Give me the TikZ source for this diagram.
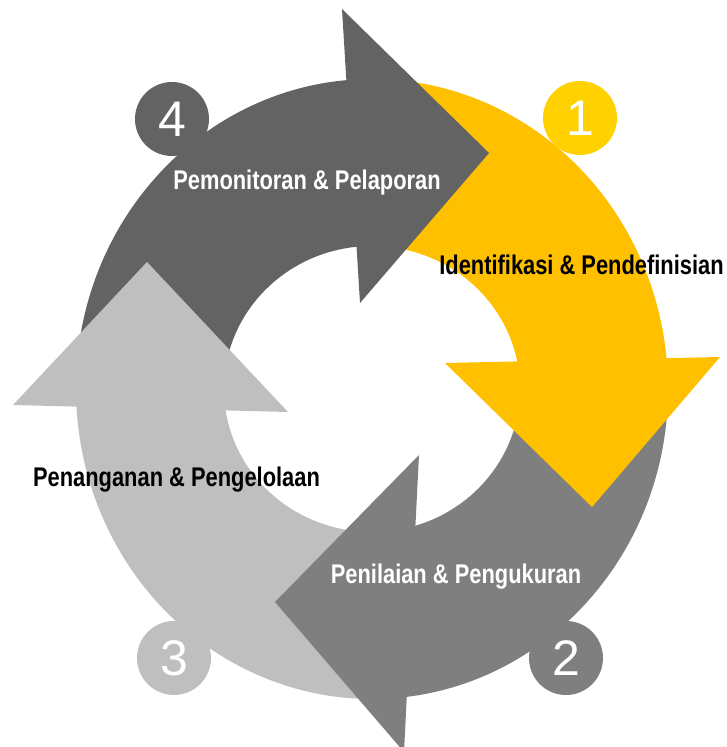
\documentclass[tikz,border=0pt]{standalone}
\usepackage{fontspec}
\setmainfont{Liberation Sans}
\newfontfamily\narrowsans[FakeStretch=0.81]{Liberation Sans}
\usetikzlibrary{calc}
\definecolor{cdark}{HTML}{636363}
\definecolor{cyellow}{HTML}{FFC000}
\definecolor{cgold}{HTML}{FFD100}
\definecolor{cmid}{HTML}{7F7F7F}
\definecolor{clight}{HTML}{BFBFBF}

\begin{document}
\begin{tikzpicture}[x=1pt,y=1pt,
		phase/.style={font=\narrowsans\bfseries\fontsize{27}{29}\selectfont, anchor=base, inner sep=0pt},
		badge/.style={circle, minimum size=74pt, inner sep=0pt, text=white,
			font=\fontsize{50}{50}\selectfont, text height=35.8pt, text depth=0pt}]
		\useasboundingbox (0,0) rectangle (727,747);
		\clip (0,0) rectangle (727,747);
		\coordinate (c) at (372,358);
		% ring pieces, each tail hidden under the head before it
		\foreach \col/\a/\b in {cdark/180.5/91, cyellow/93/1, cmid/2.6/-87, clight/-86/-181}
		\fill[\col] ($(c)+(\a:296 and 310)$) arc[start angle=\a, end angle=\b, x radius=296pt, y radius=310pt]
			-- ($(c)+(\b:148 and 143)$) arc[start angle=\b, end angle=\a, x radius=148pt, y radius=143pt] -- cycle;
		% heads
		\fill[cdark](342,738)--(489,594)--(360,444)--cycle;
		\fill[cyellow](720,390)--(592,240)--(445,384)--cycle;
		\fill[cmid](419,292)--(275,145)--(404,-5)--cycle;
		\fill[clight](13,342)--(147,485)--(288,335)--cycle;
		% numbers
		\node[badge, fill=cgold] (n1) at (580,629) {1};
		\node[badge, fill=cmid] (n2) at (566,89) {2};
		\node[badge, fill=clight] (n3) at (174,89) {3};
		\node[badge, fill=cdark] (n4) at (172,628) {4};
		% labels
		\node[phase, text=black] (identify) at (581.5,472) {Identifikasi \& Pendefinisian};
		\node[phase, text=white] (assess) at (456,163) {Penilaian \& Pengukuran};
		\node[phase, text=black] (handle) at (176.5,260) {Penanganan \& Pengelolaan};
		\node[phase, text=white] (monitor) at (307,557) {Pemonitoran \& Pelaporan};
\end{tikzpicture}
\end{document}
